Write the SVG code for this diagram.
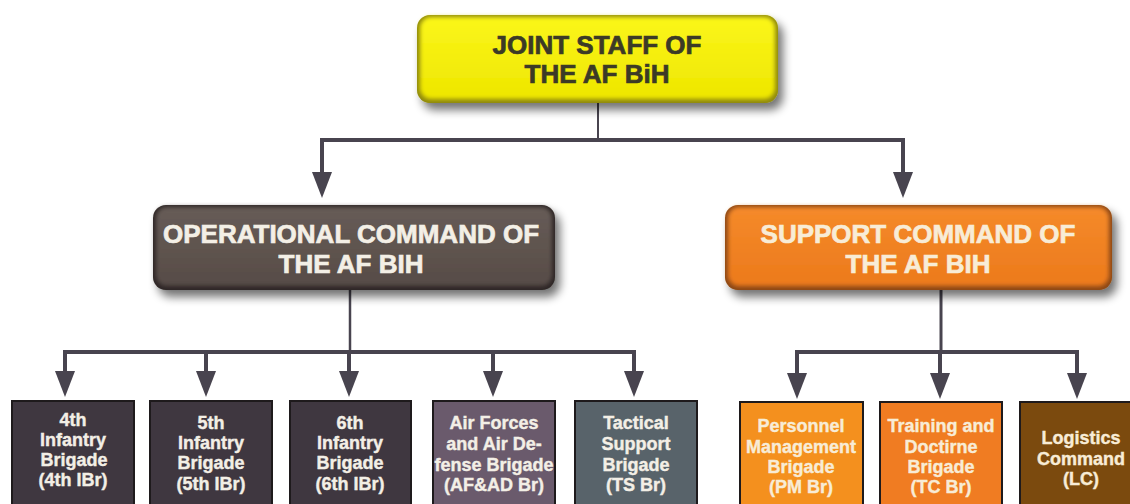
<svg xmlns="http://www.w3.org/2000/svg" width="1130" height="504" viewBox="0 0 1130 504">
<defs>
<filter id="shadow" x="-10%" y="-20%" width="125%" height="160%">
<feGaussianBlur in="SourceAlpha" stdDeviation="5"/>
<feOffset dx="5" dy="7" result="b"/>
<feComponentTransfer><feFuncA type="linear" slope="0.55"/></feComponentTransfer>
<feMerge><feMergeNode/><feMergeNode in="SourceGraphic"/></feMerge>
</filter>
<filter id="soft" x="-5%" y="-10%" width="110%" height="120%">
<feGaussianBlur stdDeviation="2.2"/>
</filter>
<marker id="arr" markerWidth="26" markerHeight="20" refX="0" refY="10" orient="auto" markerUnits="userSpaceOnUse" viewBox="0 0 26 20">
<path d="M0,0 L26,10 L0,20 Z" fill="#48444f"/>
</marker>
<linearGradient id="gY" x1="0" y1="0" x2="0" y2="1"><stop offset="0" stop-color="#fbf61a"/><stop offset="1" stop-color="#eee600"/></linearGradient>
<linearGradient id="gO" x1="0" y1="0" x2="0" y2="1"><stop offset="0" stop-color="#675c57"/><stop offset="1" stop-color="#574c47"/></linearGradient>
<linearGradient id="gS" x1="0" y1="0" x2="0" y2="1"><stop offset="0" stop-color="#f58a2a"/><stop offset="1" stop-color="#ec7a1c"/></linearGradient>
</defs>
<style>
.big{font-family:"Liberation Sans",Arial,sans-serif;font-weight:bold;font-size:26px;text-anchor:middle;stroke-width:0.7}
.sm{font-family:"Liberation Sans",Arial,sans-serif;font-weight:bold;font-size:18px;text-anchor:middle;stroke-width:0.4}
.lt{fill:#f3efe6;stroke:#f3efe6}
.cr{fill:#f8ecd6;stroke:#f8ecd6}
.dk{fill:#3c3a26;stroke:#3c3a26}
.bx{stroke:#1e1a1c;stroke-width:2}
.ln{stroke:#48444f;fill:none}
</style>
<rect width="1130" height="504" fill="#ffffff"/>

<g id="connectors">
<path class="ln" stroke-width="2" d="M598,103 V140"/>
<path class="ln" stroke-width="4" d="M322,140 H903"/>
<path class="ln" stroke-width="4" d="M322,138 V172" marker-end="url(#arr)"/>
<path class="ln" stroke-width="4" d="M903,138 V172" marker-end="url(#arr)"/>

<path class="ln" stroke-width="2.5" d="M350,290 V352"/>
<path class="ln" stroke-width="4" d="M63,352 H636"/>
<path class="ln" stroke-width="4" d="M65,350 V371" marker-end="url(#arr)"/>
<path class="ln" stroke-width="4" d="M206,350 V371" marker-end="url(#arr)"/>
<path class="ln" stroke-width="4" d="M349,350 V371" marker-end="url(#arr)"/>
<path class="ln" stroke-width="4" d="M493,350 V371" marker-end="url(#arr)"/>
<path class="ln" stroke-width="4" d="M634,350 V371" marker-end="url(#arr)"/>

<path class="ln" stroke-width="3" d="M941,290 V352"/>
<path class="ln" stroke-width="4" d="M797,352 H1077"/>
<path class="ln" stroke-width="4" d="M797,350 V373" marker-end="url(#arr)"/>
<path class="ln" stroke-width="4" d="M940,350 V373" marker-end="url(#arr)"/>
<path class="ln" stroke-width="4" d="M1077,350 V373" marker-end="url(#arr)"/>
</g>

<g id="joint-staff">
<rect x="417" y="15" width="361" height="88" rx="13" fill="#8e8808" filter="url(#shadow)"/>
<rect x="420" y="17" width="355" height="82" rx="11" fill="url(#gY)" filter="url(#soft)"/>
<text class="big dk" x="597" y="54">JOINT STAFF OF</text>
<text class="big dk" x="597" y="83">THE AF BiH</text>
</g>

<g id="operational-command">
<rect x="153" y="205" width="402" height="85" rx="13" fill="#2e2725" filter="url(#shadow)"/>
<rect x="156" y="207" width="396" height="79" rx="11" fill="url(#gO)" filter="url(#soft)"/>
<text class="big lt" x="351" y="243">OPERATIONAL COMMAND OF</text>
<text class="big lt" x="351" y="273">THE AF BIH</text>
</g>

<g id="support-command">
<rect x="725" y="205" width="387" height="85" rx="13" fill="#8c4612" filter="url(#shadow)"/>
<rect x="728" y="207" width="381" height="79" rx="11" fill="url(#gS)" filter="url(#soft)"/>
<text class="big cr" x="918" y="243">SUPPORT COMMAND OF</text>
<text class="big cr" x="918" y="273">THE AF BIH</text>
</g>

<g id="ibr4">
<rect class="bx" x="12" y="401" width="122" height="110" fill="#3f3740"/>
<text class="sm lt" x="73" y="426">4th</text>
<text class="sm lt" x="73" y="446">Infantry</text>
<text class="sm lt" x="74" y="466">Brigade</text>
<text class="sm lt" x="73" y="486">(4th IBr)</text>
</g>

<g id="ibr5">
<rect class="bx" x="150" y="401" width="122" height="110" fill="#3f3740"/>
<text class="sm lt" x="211" y="429">5th</text>
<text class="sm lt" x="211" y="449">Infantry</text>
<text class="sm lt" x="211" y="469">Brigade</text>
<text class="sm lt" x="211" y="490">(5th IBr)</text>
</g>

<g id="ibr6">
<rect class="bx" x="290" y="401" width="121" height="110" fill="#3f3740"/>
<text class="sm lt" x="350" y="429">6th</text>
<text class="sm lt" x="350" y="449">Infantry</text>
<text class="sm lt" x="350" y="469">Brigade</text>
<text class="sm lt" x="350" y="490">(6th IBr)</text>
</g>

<g id="afad">
<rect class="bx" x="433" y="401" width="122" height="110" fill="#6a5a6c"/>
<text class="sm lt" x="494" y="429">Air Forces</text>
<text class="sm lt" x="494" y="450">and Air De-</text>
<text class="sm lt" x="494" y="471">fense Brigade</text>
<text class="sm lt" x="494" y="491">(AF&amp;AD Br)</text>
</g>

<g id="tsbr">
<rect class="bx" x="575" y="401" width="122" height="110" fill="#58636a"/>
<text class="sm lt" x="636" y="429">Tactical</text>
<text class="sm lt" x="636" y="450">Support</text>
<text class="sm lt" x="636" y="471">Brigade</text>
<text class="sm lt" x="636" y="491">(TS Br)</text>
</g>

<g id="pmbr">
<rect class="bx" x="740" y="402" width="123" height="110" fill="#f4901e"/>
<text class="sm cr" x="801" y="432">Personnel</text>
<text class="sm cr" x="801" y="453">Management</text>
<text class="sm cr" x="801" y="473">Brigade</text>
<text class="sm cr" x="801" y="493">(PM Br)</text>
</g>

<g id="tcbr">
<rect class="bx" x="880" y="402" width="122" height="110" fill="#f07c22"/>
<text class="sm cr" x="941" y="432">Training and</text>
<text class="sm cr" x="941" y="453">Doctirne</text>
<text class="sm cr" x="941" y="473">Brigade</text>
<text class="sm cr" x="941" y="493">(TC Br)</text>
</g>

<g id="lc">
<rect class="bx" x="1020" y="402" width="122" height="110" fill="#7b4a0e"/>
<text class="sm cr" x="1081" y="444">Logistics</text>
<text class="sm cr" x="1081" y="465">Command</text>
<text class="sm cr" x="1081" y="485">(LC)</text>
</g>
</svg>
